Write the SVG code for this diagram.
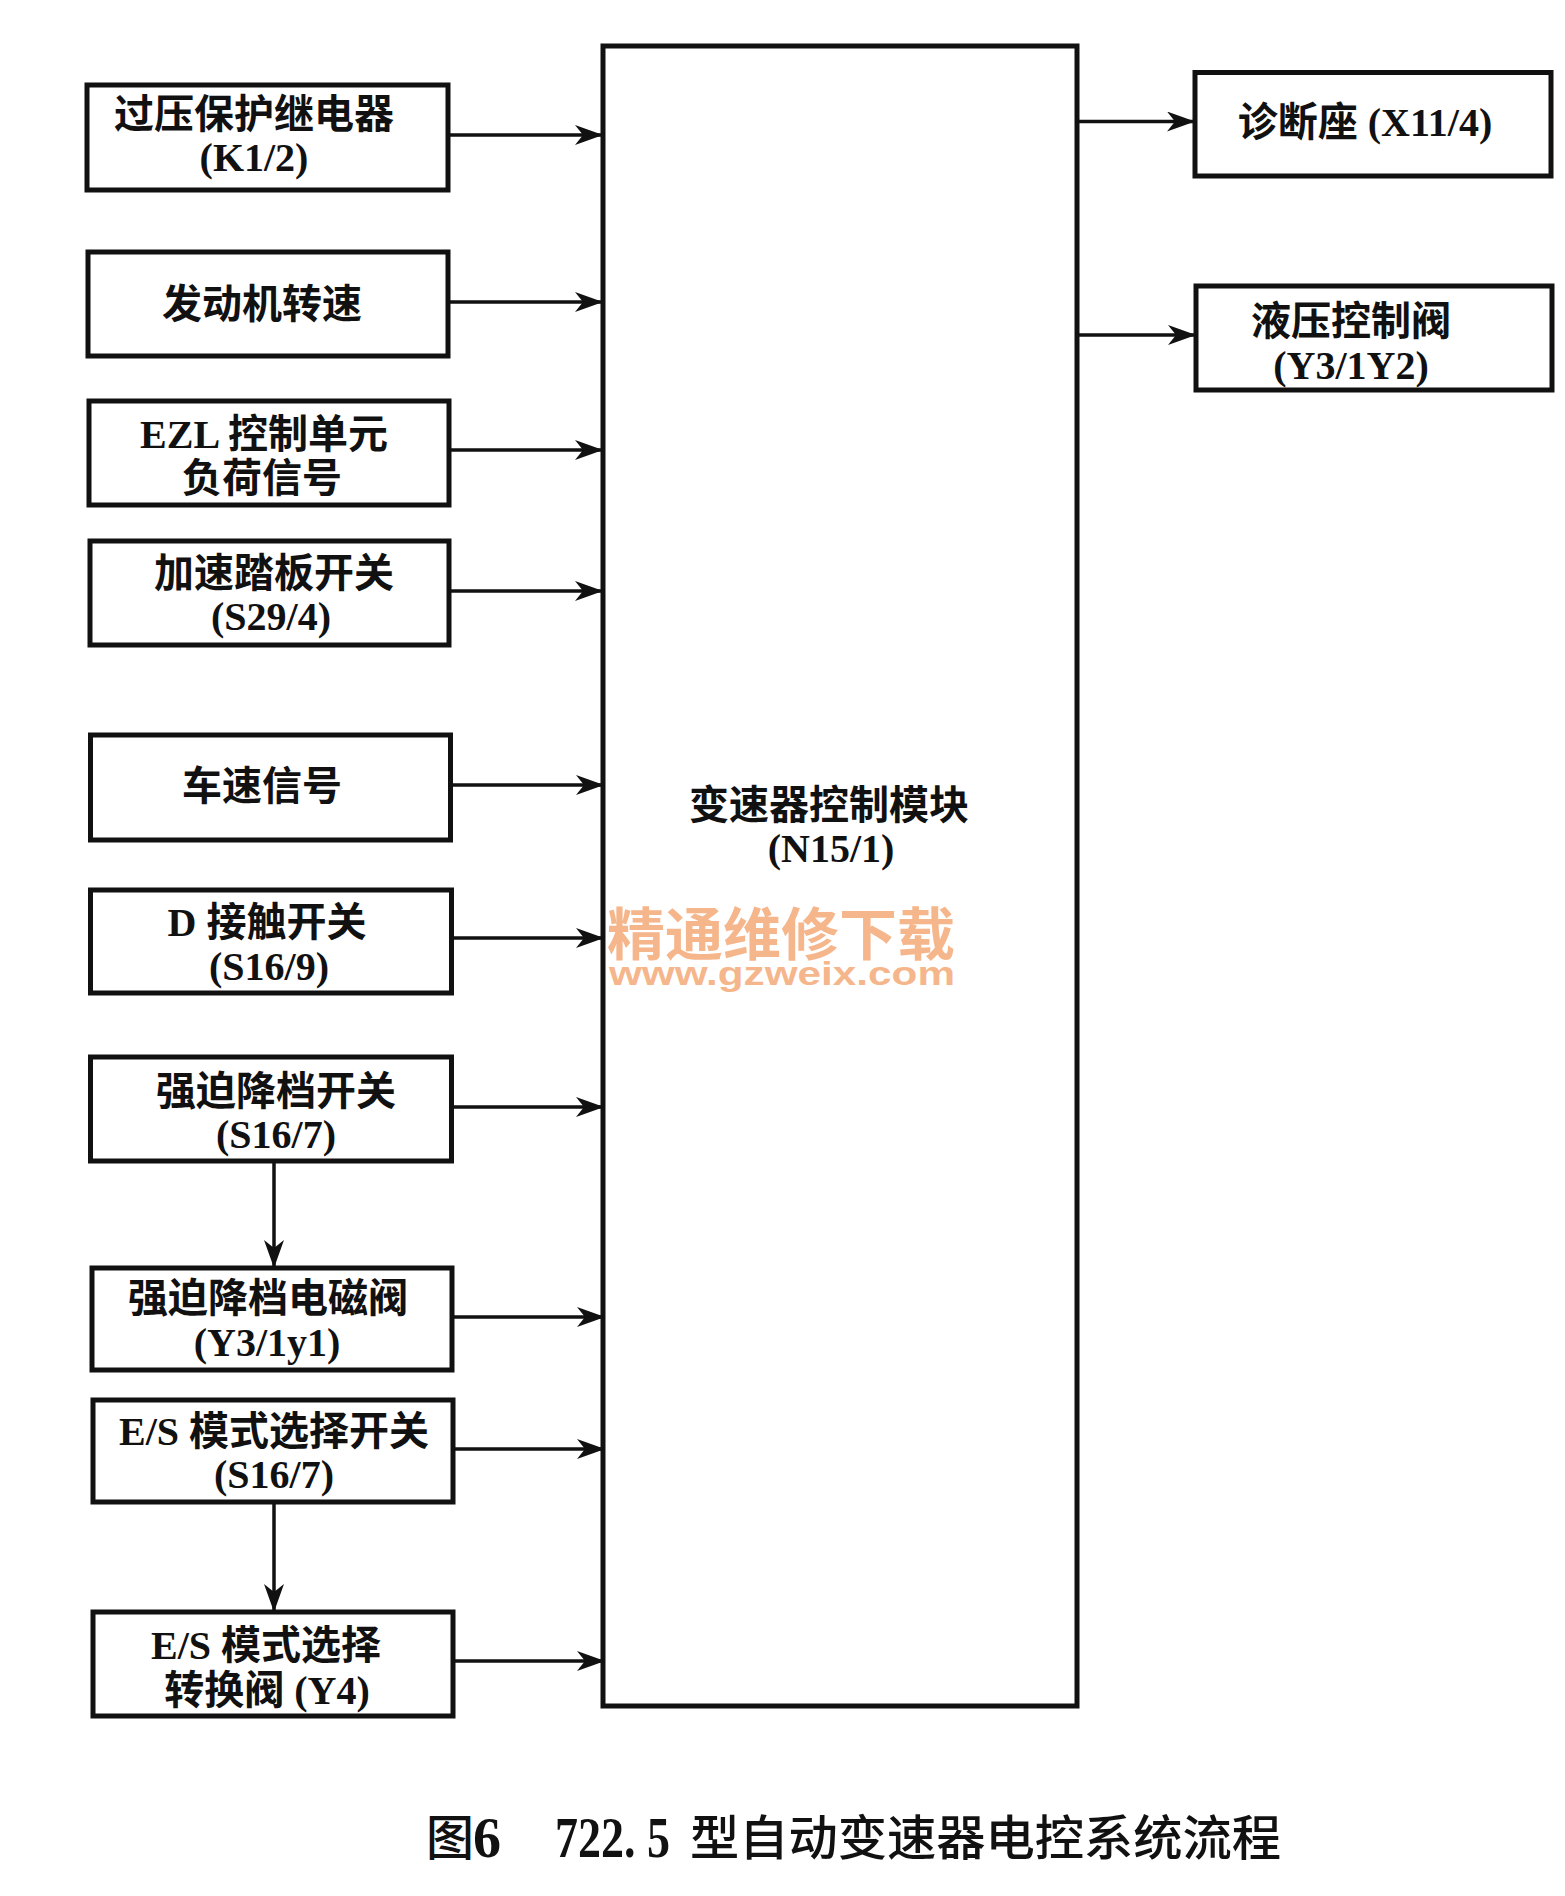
<svg xmlns="http://www.w3.org/2000/svg" width="1565" height="1896" viewBox="0 0 1565 1896">
<defs>
<style>
.box{fill:#fff;stroke:#111;stroke-width:5}
.main{fill:#fff;stroke:#111;stroke-width:5}
.t{font-family:"Liberation Serif","Noto Sans CJK SC",serif;font-weight:700;font-size:40px;fill:#111;text-anchor:middle}
.conn{fill:none;stroke:#111;stroke-width:3.5;marker-end:url(#ah)}
.cap{font-family:"Liberation Serif","Noto Sans CJK SC",serif;font-weight:500;font-size:48px;fill:#111}
.capd{font-family:"Liberation Serif",serif;font-weight:700;font-size:56px;fill:#111}
.wm1{font-family:"Noto Sans CJK SC",sans-serif;font-weight:700;font-size:57px;fill:#f6b68c}
.wm2{font-family:"Liberation Sans",sans-serif;font-weight:700;font-size:34px;fill:#f6b68c}
</style>
<marker id="ah" markerUnits="userSpaceOnUse" markerWidth="30" markerHeight="22" refX="28" refY="10" orient="auto">
<path d="M0,0 L28,10 L0,20 L8,10 z" fill="#111"/>
</marker>
</defs>
<rect width="1565" height="1896" fill="#fff"/>

<g id="n-main">
<rect class="main" x="603" y="46" width="474" height="1660"/>
<text class="t" x="829" y="819">变速器控制模块</text>
<text class="t" x="831" y="862">(N15/1)</text>
</g>

<g id="watermark">
<text class="wm1" x="607" y="955" textLength="348" lengthAdjust="spacingAndGlyphs">精通维修下载</text>
<text class="wm2" x="609" y="985" textLength="346" lengthAdjust="spacingAndGlyphs">www.gzweix.com</text>
</g>

<g id="n1">
<rect class="box" x="87" y="85" width="361" height="105"/>
<text class="t" x="254" y="128">过压保护继电器</text>
<text class="t" x="254" y="171">(K1/2)</text>
</g>
<g id="n2">
<rect class="box" x="88" y="252" width="360" height="104"/>
<text class="t" x="262" y="318">发动机转速</text>
</g>
<g id="n3">
<rect class="box" x="89" y="401" width="360" height="104"/>
<text class="t" x="264" y="448">EZL 控制单元</text>
<text class="t" x="262" y="492">负荷信号</text>
</g>
<g id="n4">
<rect class="box" x="90" y="541" width="359" height="104"/>
<text class="t" x="274" y="587">加速踏板开关</text>
<text class="t" x="271" y="630">(S29/4)</text>
</g>
<g id="n5">
<rect class="box" x="90.5" y="735" width="360" height="105"/>
<text class="t" x="262" y="800">车速信号</text>
</g>
<g id="n6">
<rect class="box" x="90.5" y="890" width="361" height="103"/>
<text class="t" x="267" y="936">D 接触开关</text>
<text class="t" x="269" y="980">(S16/9)</text>
</g>
<g id="n7">
<rect class="box" x="90.5" y="1057" width="361" height="104"/>
<text class="t" x="276" y="1105">强迫降档开关</text>
<text class="t" x="276" y="1148">(S16/7)</text>
</g>
<g id="n8">
<rect class="box" x="92" y="1268" width="360" height="102"/>
<text class="t" x="268" y="1312">强迫降档电磁阀</text>
<text class="t" x="267" y="1356">(Y3/1y1)</text>
</g>
<g id="n9">
<rect class="box" x="93" y="1400" width="360" height="102"/>
<text class="t" x="274" y="1445">E/S 模式选择开关</text>
<text class="t" x="274" y="1488">(S16/7)</text>
</g>
<g id="n10">
<rect class="box" x="93" y="1612" width="360" height="104"/>
<text class="t" x="266" y="1659">E/S 模式选择</text>
<text class="t" x="267" y="1704">转换阀 (Y4)</text>
</g>
<g id="r1">
<rect class="box" x="1195" y="72.5" width="356" height="103.5"/>
<text class="t" x="1365" y="136">诊断座 (X11/4)</text>
</g>
<g id="r2">
<rect class="box" x="1196" y="286" width="356" height="104"/>
<text class="t" x="1351" y="335">液压控制阀</text>
<text class="t" x="1351" y="379">(Y3/1Y2)</text>
</g>

<g id="connectors">
<path class="conn" d="M448,135 H603"/>
<path class="conn" d="M448,302 H603"/>
<path class="conn" d="M449,450 H603"/>
<path class="conn" d="M449,591 H603"/>
<path class="conn" d="M450.5,785 H604"/>
<path class="conn" d="M451.5,938 H604"/>
<path class="conn" d="M451.5,1107 H604"/>
<path class="conn" d="M452,1317 H605"/>
<path class="conn" d="M453,1449 H605"/>
<path class="conn" d="M453,1661 H605"/>
<path class="conn" d="M1077,121.5 H1195"/>
<path class="conn" d="M1077,335 H1196"/>
<path class="conn" d="M274,1161 V1268"/>
<path class="conn" d="M274,1502 V1612"/>
</g>

<g id="caption">
<text class="cap" x="426" y="1855">图</text>
<text class="capd" x="473" y="1857" textLength="28" lengthAdjust="spacingAndGlyphs">6</text>
<text class="capd" x="555" y="1857" textLength="115" lengthAdjust="spacingAndGlyphs">722. 5</text>
<text class="cap" x="690" y="1855" textLength="591" lengthAdjust="spacingAndGlyphs">型自动变速器电控系统流程</text>
</g>
</svg>
